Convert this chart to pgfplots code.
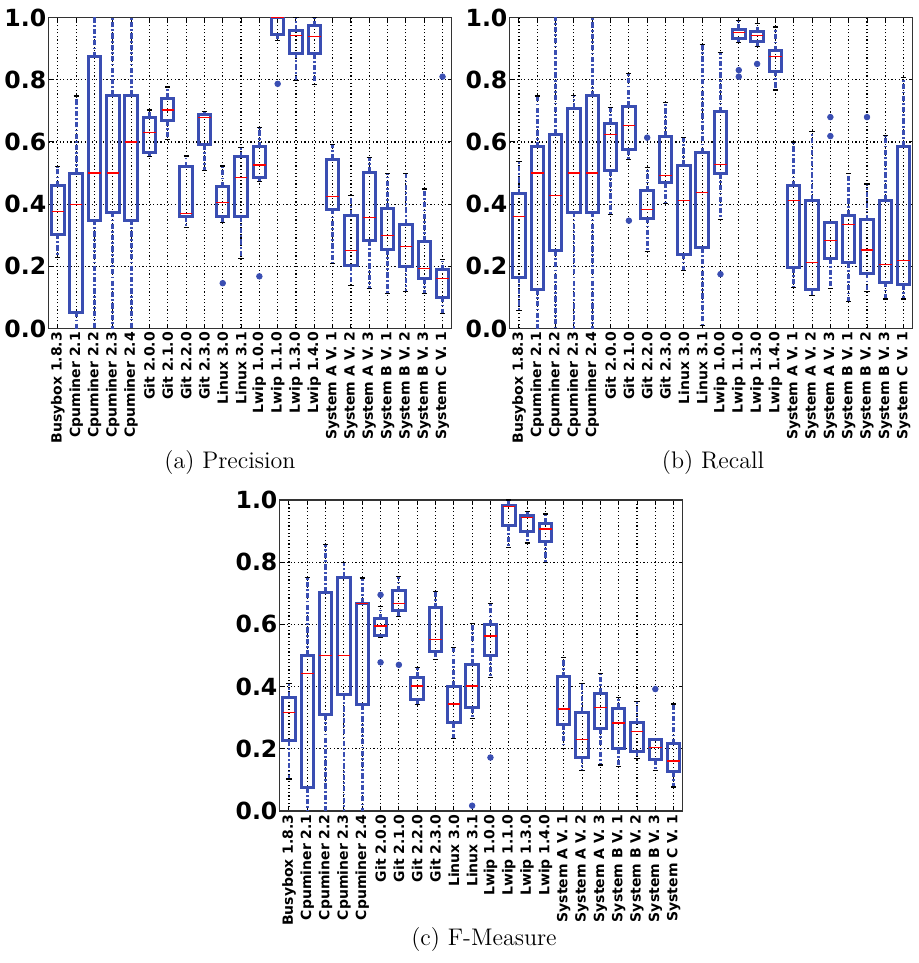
\documentclass[border=0pt]{standalone}
\usepackage{fontspec}
\usepackage{pgfplots}
\pgfplotsset{compat=1.18}
\usepgfplotslibrary{statistics}
\newfontfamily\dv{DejaVu Sans}
\definecolor{boxblue}{RGB}{58,78,178}

% one box: position, lower whisker, lower quartile, median, upper quartile, upper whisker, outliers
\newcommand\bx[7]{\addplot[boxplot prepared={draw position=#1,lower whisker=#2,lower quartile=#3,median=#4,upper quartile=#5,upper whisker=#6},
  mark=*, mark size=1.4pt, mark options={solid,fill=boxblue,draw=boxblue}] coordinates {#7};}

\tikzset{whisk/.style={boxblue, line width=1.4pt, dash pattern=on 2.6pt off 1.1pt on 0.9pt off 1.1pt}}

\pgfplotsset{
  panel/.style={
    scale only axis, width=201.5pt, height=155.5pt, anchor=south west,
    xmin=-0.5, xmax=21.5, ymin=0, ymax=1,
    xtick={0,...,21},
    xticklabels={Busybox 1.8.3,Cpuminer 2.1,Cpuminer 2.2,Cpuminer 2.3,Cpuminer 2.4,Git 2.0.0,Git 2.1.0,Git 2.2.0,Git 2.3.0,Linux 3.0,Linux 3.1,Lwip 1.0.0,Lwip 1.1.0,Lwip 1.3.0,Lwip 1.4.0,System A V. 1,System A V. 2,System A V. 3,System B V. 1,System B V. 2,System B V. 3,System C V. 1},
    ytick={0,0.2,0.4,0.6,0.8,1}, yticklabels={0.0,0.2,0.4,0.6,0.8,1.0},
    grid=major, major grid style={black, line width=0.55pt, dash pattern=on 0.6pt off 1.2pt},
    xticklabel style={rotate=90, anchor=east, font=\dv\bfseries\fontsize{7}{8}\selectfont, inner sep=1.5pt},
    yticklabel style={font=\dv\bfseries\fontsize{11.8}{12}\selectfont, inner sep=1pt},
    tick align=inside, major tick length=2pt, tick style={black, line width=0.5pt},
    axis line style={black!80, line width=0.6pt},
    boxplot/draw direction=y,
    boxplot/box extend=0.68, boxplot/whisker extend=0.28,
    boxplot/every box/.style={draw=boxblue, line width=1.5pt},
    boxplot/every median/.style={red, line width=0.6pt},
    boxplot/draw/lower whisker/.code={
      \draw[whisk]
        (boxplot box cs:\pgfplotsboxplotvalue{lower quartile},0.5) -- (boxplot box cs:\pgfplotsboxplotvalue{lower whisker},0.5);
      \draw[black, line width=0.6pt]
        (boxplot whisker cs:\pgfplotsboxplotvalue{lower whisker},0) -- (boxplot whisker cs:\pgfplotsboxplotvalue{lower whisker},1);
    },
    boxplot/draw/upper whisker/.code={
      \draw[whisk]
        (boxplot box cs:\pgfplotsboxplotvalue{upper quartile},0.5) -- (boxplot box cs:\pgfplotsboxplotvalue{upper whisker},0.5);
      \draw[black, line width=0.6pt]
        (boxplot whisker cs:\pgfplotsboxplotvalue{upper whisker},0) -- (boxplot whisker cs:\pgfplotsboxplotvalue{upper whisker},1);
    },
  }
}

\begin{document}
\begin{tikzpicture}
\useasboundingbox (0,0) rectangle (459.5pt,481.5pt);

% (a) Precision
\begin{axis}[panel, at={(24.35pt,317.2pt)}]
\bx{0}{0.229}{0.304}{0.377}{0.459}{0.520}{}
\bx{1}{-0.01}{0.053}{0.400}{0.500}{0.748}{}
\bx{2}{-0.01}{0.349}{0.500}{0.874}{1.01}{}
\bx{3}{-0.01}{0.374}{0.500}{0.749}{1.01}{}
\bx{4}{-0.01}{0.349}{0.600}{0.749}{1.01}{}
\bx{5}{0.554}{0.566}{0.631}{0.680}{0.703}{}
\bx{6}{0.608}{0.669}{0.703}{0.740}{0.777}{}
\bx{7}{0.326}{0.359}{0.370}{0.520}{0.555}{}
\bx{8}{0.508}{0.592}{0.679}{0.689}{0.699}{}
\bx{9}{0.342}{0.361}{0.406}{0.456}{0.523}{(9,0.146)}
\bx{10}{0.226}{0.360}{0.486}{0.552}{0.582}{}
\bx{11}{0.472}{0.485}{0.526}{0.584}{0.646}{(11,0.168)}
\bx{12}{0.927}{0.947}{1.000}{1.000}{1.000}{(12,0.787)}
\bx{13}{0.797}{0.886}{0.942}{0.960}{1.000}{}
\bx{14}{0.784}{0.885}{0.938}{0.973}{1.000}{}
\bx{15}{0.210}{0.384}{0.424}{0.544}{0.591}{}
\bx{16}{0.138}{0.202}{0.251}{0.365}{0.429}{}
\bx{17}{0.130}{0.283}{0.358}{0.502}{0.551}{}
\bx{18}{0.114}{0.254}{0.299}{0.386}{0.498}{}
\bx{19}{0.120}{0.200}{0.263}{0.336}{0.498}{}
\bx{20}{0.112}{0.161}{0.194}{0.280}{0.449}{}
\bx{21}{0.048}{0.101}{0.162}{0.189}{0.223}{(21,0.810)}
\end{axis}

% (b) Recall
\begin{axis}[panel, at={(254.9pt,317.2pt)}]
\bx{0}{0.058}{0.164}{0.360}{0.433}{0.536}{}
\bx{1}{-0.01}{0.125}{0.500}{0.584}{0.748}{}
\bx{2}{-0.01}{0.250}{0.428}{0.624}{1.01}{}
\bx{3}{-0.01}{0.374}{0.500}{0.708}{0.749}{}
\bx{4}{-0.01}{0.374}{0.500}{0.748}{1.01}{}
\bx{5}{0.368}{0.508}{0.624}{0.661}{0.710}{}
\bx{6}{0.543}{0.576}{0.654}{0.715}{0.821}{(6,0.347)}
\bx{7}{0.247}{0.355}{0.382}{0.443}{0.518}{(7,0.614)}
\bx{8}{0.402}{0.469}{0.491}{0.618}{0.726}{}
\bx{9}{0.186}{0.239}{0.413}{0.526}{0.614}{}
\bx{10}{0.010}{0.260}{0.438}{0.565}{0.914}{}
\bx{11}{0.352}{0.498}{0.528}{0.697}{0.887}{(11,0.175)}
\bx{12}{0.920}{0.932}{0.952}{0.963}{0.990}{(12,0.831) (12,0.810)}
\bx{13}{0.906}{0.923}{0.943}{0.954}{0.981}{(13,0.851)}
\bx{14}{0.767}{0.828}{0.876}{0.893}{0.970}{}
\bx{15}{0.132}{0.196}{0.411}{0.459}{0.600}{}
\bx{16}{0.107}{0.125}{0.213}{0.412}{0.635}{}
\bx{17}{0.130}{0.226}{0.282}{0.340}{0.345}{(17,0.680) (17,0.619)}
\bx{18}{0.088}{0.213}{0.334}{0.365}{0.498}{}
\bx{19}{0.120}{0.178}{0.253}{0.350}{0.465}{(19,0.680)}
\bx{20}{0.095}{0.149}{0.206}{0.412}{0.620}{}
\bx{21}{0.095}{0.141}{0.219}{0.586}{0.808}{}
\end{axis}

% (c) F-Measure
\begin{axis}[panel, at={(139.9pt,76pt)}]
\bx{0}{0.103}{0.227}{0.317}{0.365}{0.409}{}
\bx{1}{-0.01}{0.075}{0.443}{0.500}{0.751}{}
\bx{2}{-0.01}{0.309}{0.500}{0.703}{0.858}{}
\bx{3}{-0.01}{0.373}{0.500}{0.751}{0.800}{}
\bx{4}{-0.01}{0.341}{0.667}{0.667}{0.749}{}
\bx{5}{0.558}{0.563}{0.595}{0.618}{0.658}{(5,0.695) (5,0.478)}
\bx{6}{0.626}{0.645}{0.667}{0.708}{0.754}{(6,0.470)}
\bx{7}{0.343}{0.359}{0.402}{0.430}{0.461}{}
\bx{8}{0.488}{0.513}{0.551}{0.653}{0.706}{}
\bx{9}{0.234}{0.284}{0.344}{0.400}{0.526}{}
\bx{10}{0.298}{0.333}{0.402}{0.472}{0.604}{(10,0.017)}
\bx{11}{0.429}{0.500}{0.563}{0.599}{0.667}{(11,0.172)}
\bx{12}{0.848}{0.918}{0.980}{0.983}{1.000}{}
\bx{13}{0.862}{0.898}{0.945}{0.951}{0.964}{}
\bx{14}{0.800}{0.868}{0.907}{0.926}{0.955}{}
\bx{15}{0.200}{0.277}{0.328}{0.431}{0.494}{}
\bx{16}{0.130}{0.171}{0.229}{0.317}{0.409}{}
\bx{17}{0.148}{0.264}{0.333}{0.378}{0.441}{}
\bx{18}{0.143}{0.200}{0.283}{0.330}{0.366}{}
\bx{19}{0.170}{0.192}{0.256}{0.283}{0.351}{}
\bx{20}{0.130}{0.164}{0.203}{0.229}{0.234}{(20,0.392)}
\bx{21}{0.077}{0.127}{0.161}{0.216}{0.344}{}
\end{axis}

\node[font=\fontsize{12}{14}\selectfont] at (115pt,250pt) {(a) Precision};
\node[font=\fontsize{12}{14}\selectfont] at (356.5pt,250pt) {(b) Recall};
\node[font=\fontsize{12}{14}\selectfont] at (242pt,11.5pt) {(c) F-Measure};
\end{tikzpicture}
\end{document}
